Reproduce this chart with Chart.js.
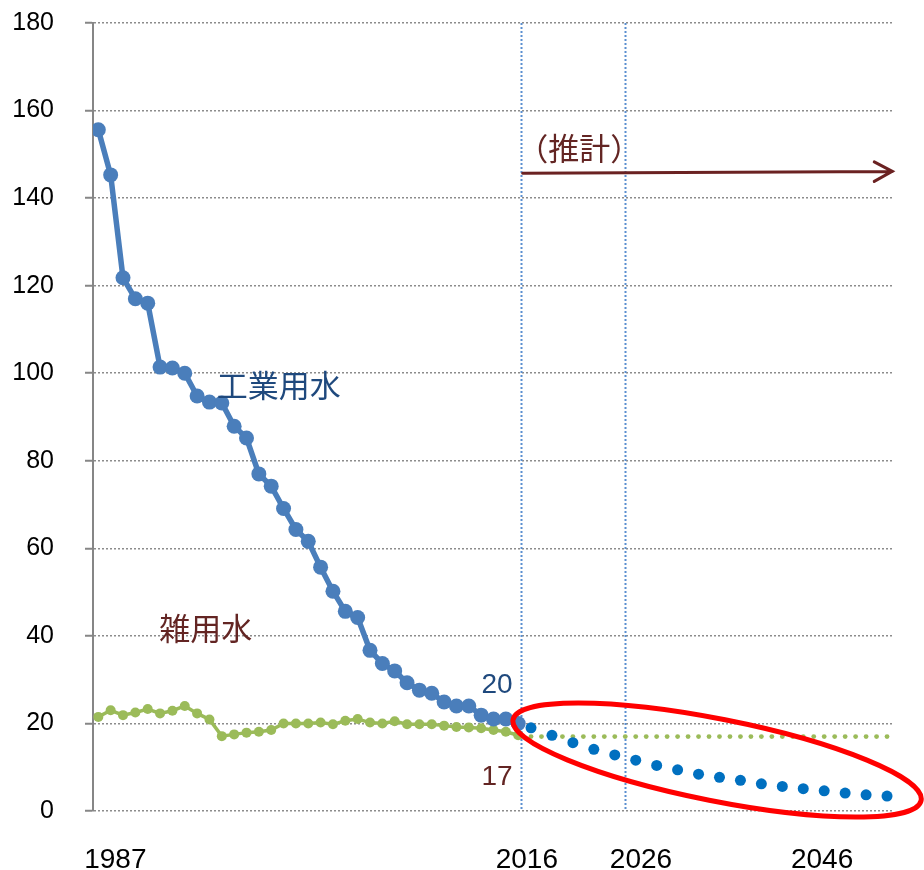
<!DOCTYPE html>
<html>
<head>
<meta charset="utf-8">
<script src="https://cdn.jsdelivr.net/npm/chart.js@4.4.1/dist/chart.umd.min.js"></script>
<style>
html,body{margin:0;padding:0;background:#fff;}
#wrap{width:924px;height:870px;}
</style>
</head>
<body>
<div id="wrap"><canvas id="c" width="924" height="870"></canvas></div>
<script>
// ---- data ----
// historical series (35 annual points, plotted on the historical axis by position)
const histIndustrial = [155.6,145.3,121.8,117.0,116.0,101.4,101.2,100.0,94.8,93.4,93.2,87.9,85.2,77.0,74.2,69.1,64.3,61.6,55.7,50.2,45.6,44.2,36.7,33.7,32.0,29.3,27.6,26.9,24.9,24.0,24.0,21.9,21.0,21.0,20.0];
const histMisc = [21.5,23.0,21.9,22.5,23.3,22.3,22.9,24.0,22.3,20.9,17.1,17.5,17.9,18.1,18.5,20.0,20.0,20.0,20.2,19.8,20.6,21.0,20.2,20.0,20.5,19.8,19.8,19.8,19.5,19.2,19.1,18.9,18.5,18.1,17.3];
// forecast (推計)
const forecastIndYears = [2017,2019,2021,2023,2025,2027,2029,2031,2033,2035,2037,2039,2041,2043,2045,2047,2049,2051];
const forecastIndustrial = [19.0,17.3,15.6,14.1,12.8,11.6,10.4,9.4,8.4,7.7,7.0,6.2,5.6,5.1,4.6,4.1,3.7,3.4];
const forecastMiscYears = [2017,2018,2019,2020,2021,2022,2023,2024,2025,2026,2027,2028,2029,2030,2031,2032,2033,2034,2035,2036,2037,2038,2039,2040,2041,2042,2043,2044,2045,2046,2047,2048,2049,2050,2051];
const forecastMisc = [17,17,17,17,17,17,17,17,17,17,17,17,17,17,17,17,17,17,17,17,17,17,17,17,17,17,17,17,17,17,17,17,17,17,17];
// axis labels
const xTickLabels = ['1987','2016','2026','2046'];
const xTickAt = [1977.3, 2016.6, 2027.5, 2044.8];
const yTicks = [0,20,40,60,80,100,120,140,160,180];
const markerYears = [2016, 2026];

const sans = "'Liberation Sans',Arial,sans-serif";
const cjk = "'Noto Sans CJK JP','Noto Sans',sans-serif";

const overlay = {
  id: 'overlay',
  beforeDatasetsDraw(chart) {
    const {ctx, chartArea, scales} = chart;
    const xf = scales.xf;
    ctx.save();
    ctx.strokeStyle = '#5B8FD0';
    ctx.lineWidth = 2;
    ctx.setLineDash([2, 2]);
    markerYears.forEach(yr => {
      const x = Math.round(xf.getPixelForValue(yr)) + 0.5;
      ctx.beginPath();
      ctx.moveTo(x, chartArea.top);
      ctx.lineTo(x, chartArea.bottom);
      ctx.stroke();
    });
    ctx.restore();
  },
  afterDraw(chart) {
    const {ctx, scales} = chart;
    const xf = scales.xf, y = scales.y;
    const px = v => xf.getPixelForValue(v);
    const py = v => y.getPixelForValue(v);
    ctx.save();
    // text annotations
    ctx.textBaseline = 'middle';
    ctx.font = "31px " + cjk;
    ctx.fillStyle = '#1F497D';
    ctx.textAlign = 'left';
    ctx.fillText('工業用水', px(1987.0), py(97.2));
    ctx.fillStyle = '#632523';
    ctx.fillText('雑用水', px(1981.5), py(41.8));
    ctx.textAlign = 'center';
    ctx.fillText('（推計）', px(2021.6), py(151.5));
    ctx.font = "28px " + sans;
    ctx.fillStyle = '#1F497D';
    ctx.fillText('20', px(2013.75), py(28.8));
    ctx.fillStyle = '#632523';
    ctx.fillText('17', px(2013.75), py(7.8));
    // arrow
    const x1 = px(2016.2), y1 = py(145.7), x2 = px(2051.5), y2 = py(146.1);
    ctx.strokeStyle = '#6B2222';
    ctx.lineWidth = 3;
    ctx.lineCap = 'round';
    ctx.beginPath();
    ctx.moveTo(x1, y1); ctx.lineTo(x2, y2);
    ctx.moveTo(x2 - 18, y2 - 9.5); ctx.lineTo(x2, y2); ctx.lineTo(x2 - 18, y2 + 10);
    ctx.stroke();
    // red ellipse
    ctx.strokeStyle = '#FF0000';
    ctx.lineWidth = 5;
    ctx.beginPath();
    ctx.ellipse(px(2034.77), py(11.64), 208, 41, 11.2 * Math.PI / 180, 0, Math.PI * 2);
    ctx.stroke();
    ctx.restore();
  }
};

new Chart(document.getElementById('c'), {
  type: 'line',
  data: {
    datasets: [
      {
        label: '工業用水',
        xAxisID: 'xh',
        data: histIndustrial.map((v, i) => ({x: i, y: v})),
        borderColor: '#4A7EBB',
        backgroundColor: '#4A7EBB',
        borderWidth: 5.5,
        pointRadius: 7.5,
        pointBorderWidth: 0,
        pointBackgroundColor: '#4A7EBB',
        tension: 0
      },
      {
        label: '雑用水',
        xAxisID: 'xh',
        data: histMisc.map((v, i) => ({x: i, y: v})),
        borderColor: '#9BBB59',
        backgroundColor: '#9BBB59',
        borderWidth: 3.5,
        pointRadius: 5,
        pointBorderWidth: 0,
        pointBackgroundColor: '#9BBB59',
        tension: 0
      },
      {
        label: '工業用水（推計）',
        xAxisID: 'xf',
        data: forecastIndustrial.map((v, i) => ({x: forecastIndYears[i], y: v})),
        showLine: false,
        pointRadius: 5.5,
        pointBorderWidth: 0,
        pointBackgroundColor: '#0070C0',
        backgroundColor: '#0070C0'
      },
      {
        label: '雑用水（推計）',
        xAxisID: 'xf',
        data: forecastMisc.map((v, i) => ({x: forecastMiscYears[i], y: v})),
        showLine: false,
        pointRadius: 2.4,
        pointBorderWidth: 0,
        pointBackgroundColor: '#9BBB59',
        backgroundColor: '#9BBB59'
      }
    ]
  },
  options: {
    responsive: false,
    devicePixelRatio: 1,
    animation: false,
    layout: {padding: {top: 23, right: 31, left: 0, bottom: 0}},
    plugins: {legend: {display: false}, tooltip: {enabled: false}},
    scales: {
      xh: {
        type: 'linear', position: 'bottom', display: false,
        min: -0.43, max: 64.35
      },
      xf: {
        type: 'linear', position: 'bottom',
        min: 1975.17, max: 2051.57,
        afterFit(s) { s.height = 59; s.paddingLeft = 0; s.paddingRight = 0; },
        afterBuildTicks(s) { s.ticks = xTickAt.map(v => ({value: v})); },
        grid: {display: false, drawTicks: false},
        border: {display: false},
        ticks: {
          autoSkip: false, maxRotation: 0, padding: 32,
          color: '#000',
          font: {family: sans, size: 28},
          callback: (v, i) => xTickLabels[i]
        }
      },
      y: {
        type: 'linear', min: 0, max: 180,
        afterFit(s) { s.width = 93; s.paddingTop = 0; s.paddingBottom = 0; },
        afterBuildTicks(s) { s.ticks = yTicks.map(v => ({value: v})); },
        grid: {
          color: '#8C8C8C', lineWidth: 1.5,
          tickLength: 8, tickColor: '#868686', tickWidth: 2, tickBorderDash: []
        },
        border: {display: true, color: '#868686', width: 2, dash: [2, 2]},
        ticks: {
          padding: 31, color: '#000',
          font: {family: sans, size: 25}
        }
      }
    }
  },
  plugins: [overlay]
});
</script>
</body>
</html>
